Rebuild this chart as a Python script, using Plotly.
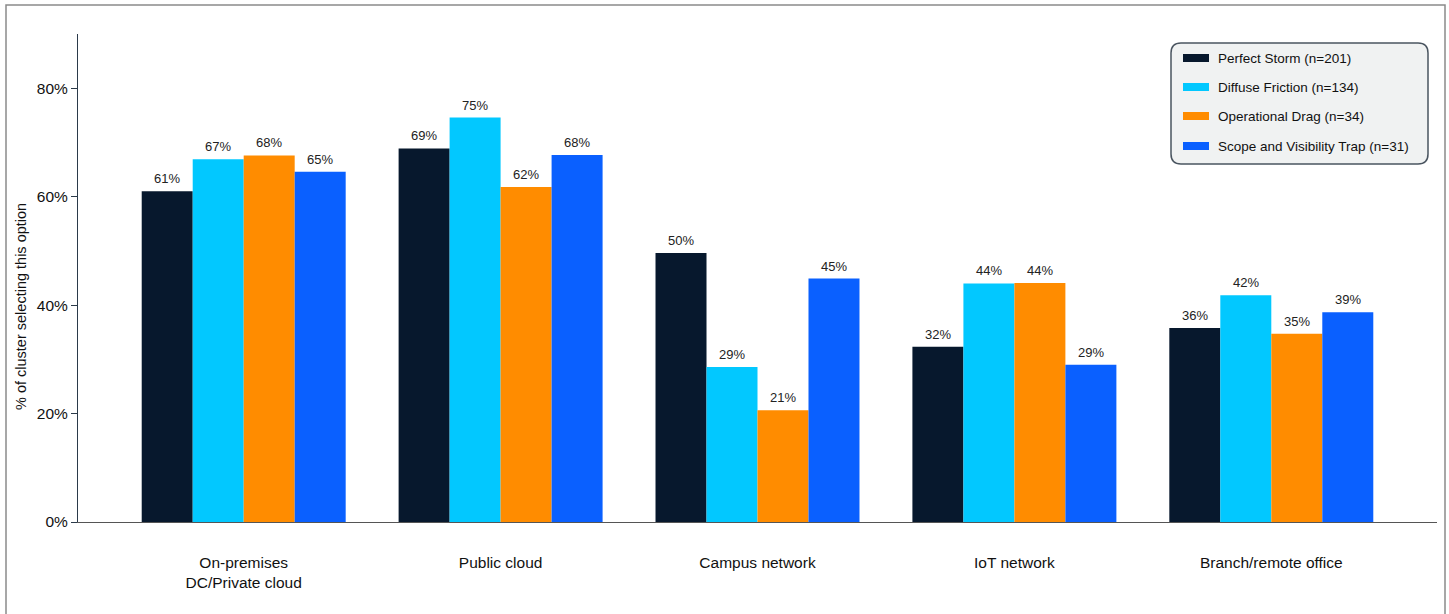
import plotly.graph_objects as go

categories = ["On-premises<br>DC/Private cloud", "Public cloud", "Campus network",
              "IoT network", "Branch/remote office"]
series_names = ["Perfect Storm (n=201)", "Diffuse Friction (n=134)",
                "Operational Drag (n=34)", "Scope and Visibility Trap (n=31)"]
perfect_storm = [61.0, 68.9, 49.6, 32.3, 35.8]
diffuse_friction = [66.9, 74.6, 28.6, 44.0, 41.8]
operational_drag = [67.6, 61.8, 20.6, 44.1, 34.7]
scope_visibility = [64.6, 67.7, 44.9, 29.0, 38.7]
colors = ["#07182D", "#02C8FF", "#FF8C00", "#0A60FF"]
y_ticks = [0, 20, 40, 60, 80]
y_title = "% of cluster selecting this option"

series = [perfect_storm, diffuse_friction, operational_drag, scope_visibility]

FONT = "Liberation Sans, Arial, sans-serif"
BARGAP = 0.206
n_series = len(series)
bar_w = (1 - BARGAP) / n_series

fig = go.Figure()
for name, vals, col in zip(series_names, series, colors):
    fig.add_trace(go.Bar(
        x=categories, y=vals, name=name, marker=dict(color=col, line=dict(width=0)),
        showlegend=False, hoverinfo="skip",
    ))

# value labels above each bar
annotations = []
for si, vals in enumerate(series):
    offset = (si - (n_series - 1) / 2) * bar_w
    for ci, v in enumerate(vals):
        annotations.append(dict(
            x=ci + offset, y=v, xref="x", yref="y", text=f"{round(v + 1e-9):d}%",
            showarrow=False, yanchor="bottom", yshift=3,
            font=dict(family=FONT, size=13, color="#222222"),
        ))

# pixel -> paper coordinate helpers
W, H = 1449, 614
ML, MR, MT, MB = 78, 12, 34, 92
pw, ph = W - ML - MR, H - MT - MB


def px(x):
    return (x - ML) / pw


def py(y):
    return (H - MB - y) / ph


def rounded_rect(x0, y0, x1, y1, r):
    X0, X1 = px(x0), px(x1)
    Y0, Y1 = py(y0), py(y1)
    rx, ry = r / pw, r / ph
    return (f"M{X0 + rx},{Y0} L{X1 - rx},{Y0} Q{X1},{Y0} {X1},{Y0 - ry} "
            f"L{X1},{Y1 + ry} Q{X1},{Y1} {X1 - rx},{Y1} L{X0 + rx},{Y1} "
            f"Q{X0},{Y1} {X0},{Y1 + ry} L{X0},{Y0 - ry} Q{X0},{Y0} {X0 + rx},{Y0} Z")


# y-axis title
annotations.append(dict(x=px(21), y=py(307), xref="paper", yref="paper", text=y_title,
                        showarrow=False, textangle=-90, xanchor="center", yanchor="middle",
                        font=dict(family=FONT, size=14.5, color="#111111")))

shapes = [
    # outer frame
    dict(type="rect", xref="paper", yref="paper", x0=px(6), x1=px(1445), y0=py(5), y1=py(640),
         line=dict(color="#8a8a8a", width=1.5), fillcolor="rgba(0,0,0,0)", layer="below"),
    # legend box
    dict(type="path", xref="paper", yref="paper", path=rounded_rect(1171, 43, 1428, 164, 10),
         line=dict(color="#4a5560", width=1.5), fillcolor="#F0F2F2"),
]
item_y = [58, 87, 116, 146]
for name, col, yy in zip(series_names, colors, item_y):
    shapes.append(dict(type="rect", xref="paper", yref="paper", x0=px(1183), x1=px(1209),
                       y0=py(yy - 4), y1=py(yy + 4), fillcolor=col, line=dict(width=0)))
    annotations.append(dict(x=px(1216), y=py(yy), xref="paper", yref="paper", text=name,
                            showarrow=False, xanchor="left", yanchor="middle",
                            font=dict(family=FONT, size=13.5, color="#111111")))

fig.update_layout(
    width=W, height=H, margin=dict(l=ML, r=MR, t=MT, b=MB),
    paper_bgcolor="white", plot_bgcolor="white",
    barmode="group", bargap=BARGAP, bargroupgap=0,
    font=dict(family=FONT, color="#111111"),
    shapes=shapes, annotations=annotations,
    xaxis=dict(range=[-0.645, 4.645], showline=True, linecolor="#555555", linewidth=1.2,
               ticks="", showgrid=False, tickfont=dict(size=15.5, color="#111111"),
               ticklabelstandoff=26, fixedrange=True),
    yaxis=dict(range=[0, 90], tickvals=y_ticks, ticktext=[f"{t}%" for t in y_ticks],
               showline=True, linecolor="#2b3a4a", linewidth=1.2, ticks="outside",
               ticklen=6, tickcolor="#2b3a4a", showgrid=False, zeroline=False,
               tickfont=dict(size=15.5, color="#111111")),
)

fig.write_html("out.html")
